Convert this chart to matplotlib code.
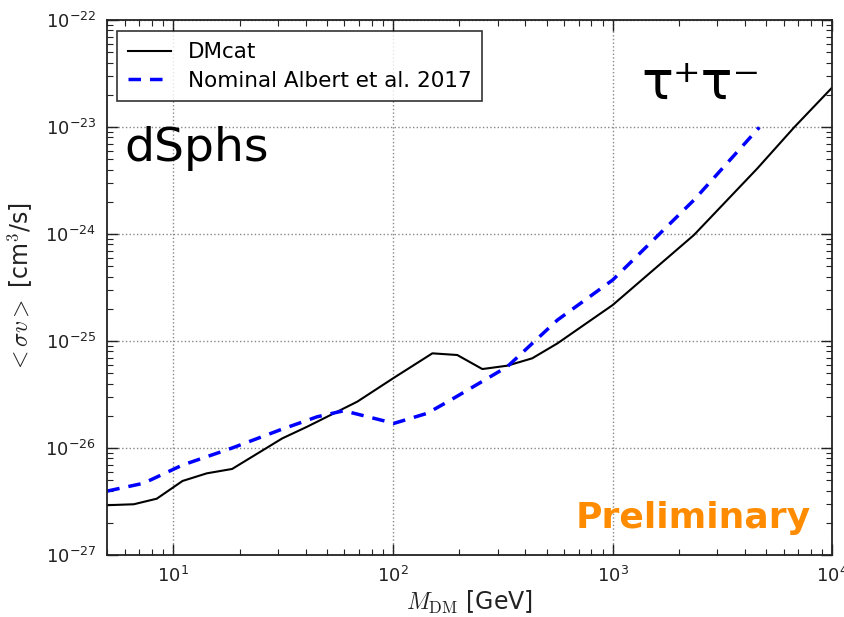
import matplotlib
matplotlib.use("Agg")
import matplotlib.pyplot as plt
from matplotlib.ticker import LogLocator, FuncFormatter, NullFormatter
import numpy as np

plt.rcParams['mathtext.fontset'] = 'cm'
plt.rcParams['font.family'] = ['DejaVu Sans']

# DMcat limit
dmcat_mass = [5, 6.6, 8.4, 11.0, 14.2, 18.5, 31.3, 40.6, 68.7, 101, 151, 196, 255, 331, 430, 560,
              1000, 2345, 4560, 6700, 10000]
dmcat_sv = [2.92e-27, 2.98e-27, 3.36e-27, 4.92e-27, 5.8e-27, 6.37e-27, 1.23e-26, 1.58e-26, 2.71e-26,
            4.54e-26, 7.67e-26, 7.4e-26, 5.47e-26, 5.88e-26, 6.89e-26, 9.5e-26,
            2.17e-25, 9.8e-25, 4.11e-24, 9.93e-24, 2.35e-23]

# Nominal Albert et al. 2017
albert_mass = [5, 7.3, 11.0, 18.5, 30.7, 45.2, 59.7, 101, 143, 183, 331, 560, 1000, 2345, 4650]
albert_sv = [3.96e-27, 4.68e-27, 6.93e-27, 1.0e-26, 1.48e-26, 1.96e-26, 2.23e-26, 1.7e-26,
             2.11e-26, 2.81e-26, 5.75e-26, 1.57e-25, 3.72e-25, 2.08e-24, 9.93e-24]

fig = plt.figure(figsize=(8.45, 6.17), dpi=100)
ax = fig.add_axes([0.127, 0.1005, 0.858, 0.867])

ax.plot(dmcat_mass, dmcat_sv, color='black', lw=1.5, label='DMcat')
ax.plot(albert_mass, albert_sv, color='#0000FF', lw=2.5, ls=(0, (3.6, 2.6)),
        label='Nominal Albert et al. 2017')

ax.set_xscale('log')
ax.set_yscale('log')
ax.set_xlim(5, 1e4)
ax.set_ylim(1e-27, 1e-22)

fmt = FuncFormatter(lambda v, p: r'$\mathregular{10^{%d}}$' % int(round(np.log10(v))))
ax.xaxis.set_major_locator(LogLocator(base=10, numticks=10))
ax.yaxis.set_major_locator(LogLocator(base=10, numticks=10))
ax.xaxis.set_major_formatter(fmt)
ax.yaxis.set_major_formatter(fmt)
ax.xaxis.set_minor_locator(LogLocator(base=10, subs=np.arange(2, 10), numticks=20))
ax.yaxis.set_minor_locator(LogLocator(base=10, subs=np.arange(2, 10), numticks=20))
ax.xaxis.set_minor_formatter(NullFormatter())
ax.yaxis.set_minor_formatter(NullFormatter())

ax.tick_params(which='both', direction='in', top=True, right=True, labelsize=13, colors='#222222')
ax.tick_params(which='major', length=8, width=1, pad=8)
ax.tick_params(which='minor', length=4, width=0.8)
for s in ax.spines.values():
    s.set_linewidth(1.3)
    s.set_color('#222222')

ax.grid(True, which='major', ls=':', color='#888888', lw=1)

ax.set_xlabel(r'$M_{\rm DM}$ [GeV]', fontsize=17, color='#222222', labelpad=2)
ax.set_ylabel(r'$<\sigma v>$ [cm$^3$/s]', fontsize=17, color='#222222', labelpad=8)

leg = ax.legend(loc='upper left', fontsize=15.5, frameon=True, fancybox=False,
                borderpad=0.5, handlelength=2.0, handletextpad=0.8, labelspacing=0.4,
                borderaxespad=0.0, bbox_to_anchor=(0.013, 0.979))
leg.get_frame().set_edgecolor('black')
leg.get_frame().set_linewidth(1.2)

ax.text(0.024, 0.76, 'dSphs', transform=ax.transAxes, fontsize=34, color='black', va='center')
ax.text(0.737, 0.88, 'τ⁺τ⁻', transform=ax.transAxes,
        fontsize=38, color='black', va='center')
ax.text(0.97, 0.07, 'Preliminary', transform=ax.transAxes, fontsize=26, fontweight='bold',
        color='#FF8C00', ha='right', va='center')

fig.savefig('out.png', dpi=100)
